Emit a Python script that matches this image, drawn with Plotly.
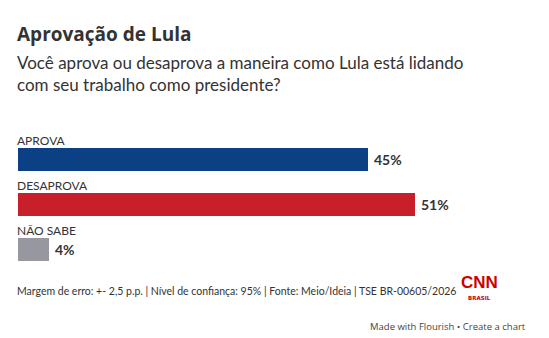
import plotly.graph_objects as go

# Poll results
categories = ["APROVA", "DESAPROVA", "NÃO SABE"]
values = [45, 51, 4]
bar_colors = ["#0b4084", "#c8202b", "#96979f"]
value_labels = ["45%", "51%", "4%"]

title = "Aprovação de Lula"
subtitle_lines = [
    "Você aprova ou desaprova a maneira como Lula está lidando",
    "com seu trabalho como presidente?",
]
footer = "Margem de erro: +- 2,5 p.p. | Nível de confiança: 95% | Fonte: Meio/Ideia | TSE BR-00605/2026"

FONT = "Lato"
W, H = 549, 338
ML, MR, MT, MB = 18, 0, 115, 66
PAD = 3   # inner padding of default annotation boxes
PAD0 = 2  # inner padding when borderpad is 0

positions = list(range(len(categories)))

fig = go.Figure()
fig.add_trace(go.Bar(
    x=values,
    y=positions,
    orientation="h",
    width=0.52,
    marker=dict(color=bar_colors, line=dict(width=0)),
    hoverinfo="skip",
))

annotations = []
# Category labels above each bar
for p, c in zip(positions, categories):
    annotations.append(dict(
        x=0, xref="paper", y=p, yref="y", yshift=19, xshift=-PAD,
        text=c, showarrow=False, xanchor="left", yanchor="middle",
        font=dict(family=FONT, size=12, color="#333333"),
    ))
# Value labels at bar ends
for p, v, t in zip(positions, values, value_labels):
    annotations.append(dict(
        x=v, xref="x", y=p, yref="y", xshift=4,
        text=f"<b>{t}</b>", showarrow=False, xanchor="left", yanchor="middle",
        font=dict(family=FONT, size=14, color="#333333"),
    ))

# Header, footer and branding, placed in pixel coordinates
px_items = []
px_items.append(dict(
    x=18 - PAD0, y=34, text=f"<b>{title}</b>", xanchor="left",
    font=dict(family="Open Sans", size=19, color="#333333"),
))
for i, line in enumerate(subtitle_lines):
    px_items.append(dict(
        x=18 - PAD0, y=62 + 22 * i, text=line, xanchor="left",
        font=dict(family=FONT, size=17, color="#333333"),
    ))
px_items.append(dict(
    x=18 - PAD0, y=291, text=footer, xanchor="left",
    font=dict(family=FONT, size=10.5, color="#333333"),
))
px_items.append(dict(
    x=479, y=282, text="<b>CNN</b>", xanchor="center",
    font=dict(family="Liberation Sans Narrow, Arial Narrow, sans-serif", size=17, color="#cc0000"),
))
px_items.append(dict(
    x=479, y=297.5, text="<b>BRASIL</b>", xanchor="center",
    font=dict(family="DejaVu Sans", size=5.5, color="#cc0000"),
))
px_items.append(dict(
    x=525 + PAD0, y=326, text="Made with Flourish • Create a chart", xanchor="right",
    font=dict(family="Open Sans", size=9.5, color="#444444"),
))

plot_w = W - ML - MR
plot_h = H - MT - MB
for it in px_items:
    annotations.append(dict(
        xref="paper", yref="paper",
        x=(it["x"] - ML) / plot_w,
        y=(H - it["y"] - MB) / plot_h,
        text=it["text"], showarrow=False,
        xanchor=it["xanchor"], yanchor="middle",
        borderpad=0,
        font=it["font"],
    ))

# 51% spans 397 px of the plot width
x_max = 51 * plot_w / 397

fig.update_layout(
    width=W, height=H,
    margin=dict(l=ML, r=MR, t=MT, b=MB),
    paper_bgcolor="white", plot_bgcolor="white",
    showlegend=False,
    bargap=0,
    xaxis=dict(range=[0, x_max], visible=False, fixedrange=True),
    yaxis=dict(range=[2.5, -0.989], visible=False, fixedrange=True),
    annotations=annotations,
)

fig.write_html("out.html", config={"displayModeBar": False})
